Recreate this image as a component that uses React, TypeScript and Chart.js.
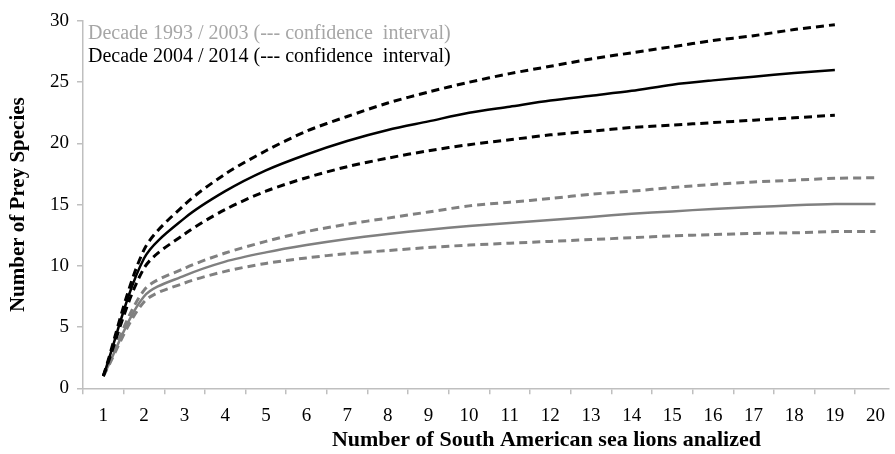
import { useEffect, useRef } from 'react';
import { Chart, registerables } from 'chart.js';

Chart.register(...registerables);

// Number of South American sea lions analized (x)
const samples = [1, 2, 3, 4, 5, 6, 7, 8, 9, 10, 11, 12, 13, 14, 15, 16, 17, 18, 19, 20];

// Decade 1993 / 2003 (gray)
const older = [1, 7.5, 9.2, 10.35, 11.1, 11.7, 12.2, 12.6, 12.95, 13.25, 13.5, 13.75, 14.0, 14.25, 14.45, 14.65, 14.8, 14.95, 15.05, 15.05];
const olderUpper = [1, 8.0, 9.8, 11.05, 12.0, 12.8, 13.4, 13.9, 14.4, 14.9, 15.2, 15.5, 15.85, 16.1, 16.4, 16.65, 16.85, 17.0, 17.15, 17.2];
const olderLower = [1, 7.05, 8.6, 9.55, 10.2, 10.65, 11.0, 11.25, 11.5, 11.7, 11.85, 12.0, 12.15, 12.3, 12.45, 12.55, 12.65, 12.7, 12.8, 12.8];

// Decade 2004 / 2014 (black)
const recent = [1, 10.6, 13.9, 16.1, 17.8, 19.1, 20.2, 21.1, 21.8, 22.5, 23.0, 23.5, 23.9, 24.3, 24.8, 25.15, 25.45, 25.75, 26.0];
const recentUpper = [1, 11.3, 15.0, 17.5, 19.4, 21.0, 22.2, 23.3, 24.2, 25.0, 25.7, 26.3, 26.9, 27.4, 27.9, 28.4, 28.8, 29.3, 29.7];
const recentLower = [1, 9.8, 12.6, 14.6, 16.1, 17.2, 18.1, 18.8, 19.4, 19.9, 20.3, 20.7, 21.0, 21.3, 21.5, 21.7, 21.9, 22.1, 22.3];

const legendLabels = [
  'Decade 1993 / 2003 (--- confidence  interval)',
  'Decade 2004 / 2014 (--- confidence  interval)',
];
const legendColors = ['#a6a6a6', '#000000'];

const xTitle = 'Number of South American sea lions analized';
const yTitle = 'Number of Prey Species';

const GRAY = '#808080';
const BLACK = '#000000';
const AXIS = '#bfbfbf';
const SERIF = '"Liberation Serif", "Times New Roman", serif';

function pts(values: number[]) {
  return values.map((v, i) => ({ x: samples[i], y: v }));
}

export default function App() {
  const ref = useRef<HTMLCanvasElement | null>(null);

  useEffect(() => {
    document.body.style.margin = '0';
    const canvas = ref.current;
    if (!canvas) return;

    const overlay = {
      id: 'overlayText',
      afterDraw(chart: any) {
        const { ctx, chartArea } = chart;
        ctx.save();
        ctx.textBaseline = 'middle';
        ctx.textAlign = 'left';
        ctx.font = `20px ${SERIF}`;
        legendLabels.forEach((t, i) => {
          ctx.fillStyle = legendColors[i];
          ctx.fillText(t, chartArea.left + 5, chartArea.top + 13 + i * 23);
        });
        ctx.font = `bold 22px ${SERIF}`;
        ctx.fillStyle = '#000';
        ctx.textAlign = 'center';
        ctx.fillText(xTitle, chartArea.left + chartArea.width * 0.575, 440);
        ctx.restore();
      },
    };

    const dashed = [8, 5];
    const chart = new Chart(canvas, {
      type: 'line',
      data: {
        datasets: [
          { label: 'Decade 2004 / 2014 upper CI', data: pts(recentUpper), borderColor: BLACK, borderWidth: 3, borderDash: dashed },
          { label: 'Decade 2004 / 2014', data: pts(recent), borderColor: BLACK, borderWidth: 2.5 },
          { label: 'Decade 2004 / 2014 lower CI', data: pts(recentLower), borderColor: BLACK, borderWidth: 3, borderDash: dashed },
          { label: 'Decade 1993 / 2003 upper CI', data: pts(olderUpper), borderColor: GRAY, borderWidth: 3, borderDash: dashed },
          { label: 'Decade 1993 / 2003', data: pts(older), borderColor: GRAY, borderWidth: 2.5 },
          { label: 'Decade 1993 / 2003 lower CI', data: pts(olderLower), borderColor: GRAY, borderWidth: 3, borderDash: dashed },
        ],
      },
      options: {
        animation: false,
        responsive: true,
        maintainAspectRatio: false,
        layout: { padding: { left: 0, right: 0, top: 21, bottom: 0 } },
        elements: {
          point: { radius: 0, hoverRadius: 0 },
          line: { tension: 0.3, fill: false },
        },
        plugins: {
          legend: { display: false },
          tooltip: { enabled: false },
        },
        scales: {
          x: {
            type: 'linear',
            min: 0.5,
            max: 20.33,
            afterFit: (s: any) => { s.height = 65.7; },
            border: { color: AXIS, width: 1.5 },
            grid: { offset: true, drawOnChartArea: false, drawTicks: true, tickLength: 6, color: AXIS, lineWidth: 1.5 },
            ticks: {
              stepSize: 1,
              includeBounds: false,
              autoSkip: false,
              maxRotation: 0,
              padding: 10,
              color: '#000',
              font: { family: SERIF, size: 19 },
            },
          },
          y: {
            min: 0,
            max: 30,
            afterFit: (s: any) => { s.width = 83; },
            border: { color: AXIS, width: 1.5 },
            grid: { drawOnChartArea: false, drawTicks: true, tickLength: 6, color: AXIS, lineWidth: 1.5 },
            ticks: {
              stepSize: 5,
              padding: 8,
              color: '#000',
              font: { family: SERIF, size: 19 },
            },
            title: {
              display: true,
              text: yTitle,
              color: '#000',
              font: { family: SERIF, size: 21, weight: 'bold' },
              padding: { top: 6, bottom: 0 },
            },
          },
        },
      },
      plugins: [overlay],
    } as any);

    return () => chart.destroy();
  }, []);

  return (
    <div style={{ position: 'relative', width: 895, height: 454 }}>
      <canvas ref={ref} />
    </div>
  );
}
